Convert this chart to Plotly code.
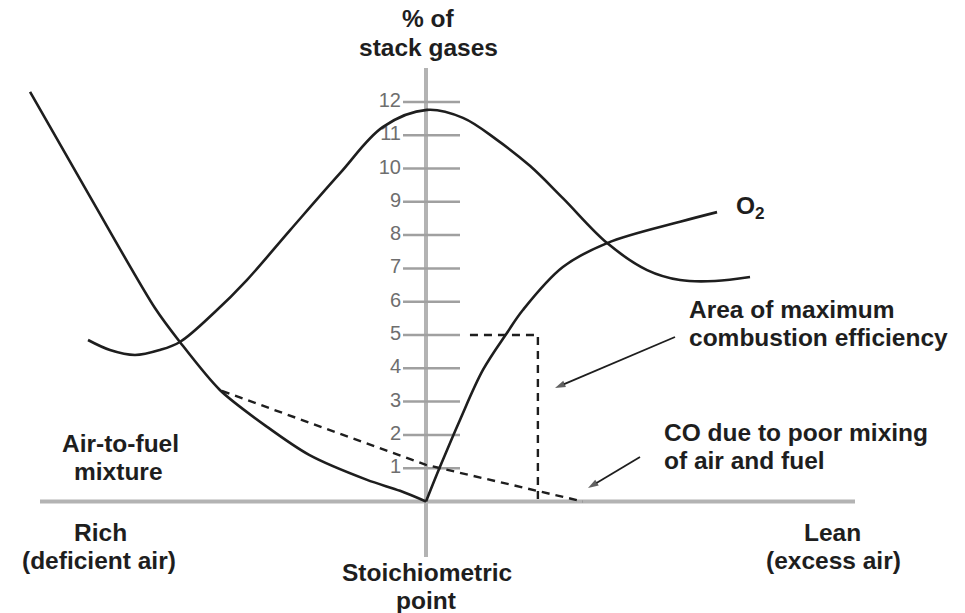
import plotly.graph_objects as go

# ---- data (x: air-to-fuel position, 0 = stoichiometric; y: % of stack gases)
tick_values = [1, 2, 3, 4, 5, 6, 7, 8, 9, 10, 11, 12]
tick_labels = ["1", "2", "3", "4", "5", "6", "7", "8", "9", "10", "11", "12"]

rich_x = [-11.89, -10.03, -8.14, -7.39, -6.19, -4.77, -3.51, -1.77, -0.78, 0.0]
rich_y = [12.30, 9.05, 5.81, 4.79, 3.35, 2.24, 1.40, 0.65, 0.32, 0.0]

co2_x = [-10.15, -9.49, -8.74, -7.99, -7.39, -6.34, -5.38, -4.08, -2.58, -1.29, 0.03,
         1.11, 2.13, 3.12, 4.11, 5.44, 6.64, 7.63, 8.68, 9.73]
co2_y = [4.85, 4.55, 4.40, 4.55, 4.79, 5.69, 6.65, 8.15, 9.86, 11.25, 11.76,
         11.52, 10.86, 10.08, 9.11, 7.76, 6.95, 6.65, 6.62, 6.74]

o2_x = [0.0, 0.42, 1.02, 1.71, 2.43, 2.91, 4.11, 5.44, 7.63, 8.74]
o2_y = [0.0, 1.04, 2.45, 3.95, 5.06, 5.75, 7.04, 7.76, 8.40, 8.69]

co_mix_x = [-6.13, 0.0, 4.71]
co_mix_y = [3.32, 1.10, 0.0]

area_x = [1.32, 3.36, 3.36]
area_y = [5.0, 5.0, 0.0]

# ---- geometry helpers (pixel layout of the 965x613 page)
W, H = 965, 613
X0PX, Y0PX, UNIT = 426.0, 501.5, 33.3
xr = [-X0PX / UNIT, (W - X0PX) / UNIT]
yr = [-(H - Y0PX) / UNIT, Y0PX / UNIT]

def px_x(p):
    return (p - X0PX) / UNIT

def px_y(p):
    return (Y0PX - p) / UNIT

AX = "#b3b3b3"
INK = "#1e1e1e"
FONT = "Liberation Sans, Arial, sans-serif"

fig = go.Figure()

# axes drawn as lines
fig.add_trace(go.Scatter(x=[px_x(40), px_x(855)], y=[0, 0], mode="lines",
                         line=dict(color=AX, width=4), hoverinfo="skip"))
fig.add_trace(go.Scatter(x=[0, 0], y=[px_y(557), px_y(68)], mode="lines",
                         line=dict(color=AX, width=4), hoverinfo="skip"))
# tick marks
tx, ty = [], []
for v in tick_values:
    tx += [px_x(403), px_x(460), None]
    ty += [v, v, None]
fig.add_trace(go.Scatter(x=tx, y=ty, mode="lines",
                         line=dict(color="#a0a0a0", width=2.5), hoverinfo="skip"))
fig.add_trace(go.Scatter(x=[px_x(401)] * len(tick_values), y=tick_values, mode="text",
                         text=tick_labels, textposition="middle left",
                         textfont=dict(family=FONT, size=20, color="#6e6e6e"),
                         hoverinfo="skip"))

# curves
fig.add_trace(go.Scatter(x=rich_x, y=rich_y, mode="lines", line=dict(color=INK, width=2.6, shape="spline", smoothing=0.8)))
fig.add_trace(go.Scatter(x=co2_x, y=co2_y, mode="lines", line=dict(color=INK, width=2.6, shape="spline", smoothing=1.0)))
fig.add_trace(go.Scatter(x=o2_x, y=o2_y, mode="lines", line=dict(color=INK, width=2.6, shape="spline", smoothing=1.0)))
fig.add_trace(go.Scatter(x=co_mix_x, y=co_mix_y, mode="lines", line=dict(color=INK, width=2.4, dash="8px,6px")))
fig.add_trace(go.Scatter(x=area_x, y=area_y, mode="lines", line=dict(color=INK, width=2.4, dash="8px,6px")))

# pointer arrows (line with arrow marker at the head)
for (x1, y1, x2, y2) in [(675, 337, 555, 388), (640, 457, 588, 488)]:
    fig.add_trace(go.Scatter(
        x=[px_x(x1), px_x(x2)], y=[px_y(y1), px_y(y2)], mode="lines+markers",
        line=dict(color=INK, width=1.8),
        marker=dict(symbol=["circle", "arrow"], size=[0, 11], color=INK,
                    angleref="previous", line=dict(width=0)),
        hoverinfo="skip"))

annotations = []

def label(text, xp, yp, anchor="center", size=24.5, bold=True):
    annotations.append(dict(
        text=("<b>%s</b>" % text) if bold else text,
        x=xp / W, y=1 - yp / H, xref="paper", yref="paper",
        xanchor=anchor, yanchor="middle", showarrow=False,
        font=dict(family=FONT, size=size, color=INK)))

label("% of", 428, 19)
label("stack gases", 428, 47)
label("O<sub>2</sub>", 734, 207, anchor="left")
label("Area of maximum", 687, 309, anchor="left")
label("combustion efficiency", 687, 337, anchor="left")
label("CO due to poor mixing", 662, 432, anchor="left")
label("of air and fuel", 662, 460, anchor="left")
label("Air-to-fuel", 120, 443)
label("mixture", 118, 471)
label("Rich", 100, 532.5)
label("(deficient air)", 99, 560.5)
label("Lean", 832, 532.5)
label("(excess air)", 833, 560.5)
label("Stoichiometric", 427, 572)
label("point", 426, 600)

fig.update_layout(
    width=W, height=H,
    margin=dict(l=0, r=0, t=0, b=0),
    paper_bgcolor="white", plot_bgcolor="white",
    showlegend=False,
    xaxis=dict(range=xr, visible=False, fixedrange=True),
    yaxis=dict(range=yr, visible=False, fixedrange=True),
    annotations=annotations,
)

fig.write_html("out.html", config={"displayModeBar": False},
               post_script="document.body.style.margin='0px';document.body.style.overflow='hidden';")
